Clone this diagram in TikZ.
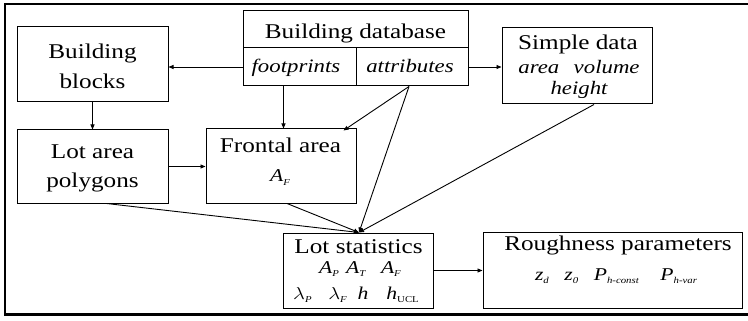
\documentclass[tikz,border=0pt]{standalone}
\usepackage{fontspec}
\usepackage{graphicx}
\setmainfont{Liberation Serif}
\usetikzlibrary{arrows.meta,calc}
\newcommand\wx[1]{\scalebox{1.2}[1]{#1}}
\newcommand\mvar[1]{{\fontsize{18}{18}\selectfont\itshape #1}}
\newcommand\sbs[1]{\raisebox{-3pt}{\fontsize{9}{9}\selectfont\itshape #1}}
\newcommand\sbu[1]{\raisebox{-3pt}{\fontsize{9}{9}\selectfont #1}}
\begin{document}
\begin{tikzpicture}[x=1pt,y=-1pt,
  box/.style={draw, line width=1pt, inner sep=0pt, rectangle},
  lbl/.style={anchor=base, inner sep=0pt, font=\fontsize{21}{21}\selectfont},
  ilbl/.style={anchor=base, inner sep=0pt, font=\fontsize{19}{19}\selectfont\itshape},
  mlbl/.style={anchor=base, inner sep=0pt, font=\fontsize{18}{18}\selectfont},
  arr/.style={-{Triangle[length=5pt,width=4pt]}, line width=0.9pt}]
\useasboundingbox (0,0) rectangle (748,321);
% outer frame
\draw[line width=1.3pt] (749,4) -- (5,4) -- (5,314);
\draw[line width=3pt] (4,314.5) -- (749,314.5);

% boxes
\node[box, minimum width=151pt, minimum height=75pt] (bb) at (92.5,64.5) {};
\node[box, minimum width=151pt, minimum height=73pt] (la) at (92.5,166.5) {};
\node[box, minimum width=225pt, minimum height=37pt] (dbh) at (355.5,29.5) {};
\node[box, minimum width=113pt, minimum height=38pt] (fp) at (299.5,67) {};
\node[box, minimum width=112pt, minimum height=38pt] (at) at (412,67) {};
\node[box, minimum width=150pt, minimum height=74pt] (fa) at (281,166) {};
\node[box, minimum width=150pt, minimum height=76pt] (sd) at (577,66) {};
\node[box, minimum width=150pt, minimum height=75pt] (ls) at (358,270.5) {};
\node[box, minimum width=259pt, minimum height=76pt] (rp) at (612.5,270) {};

% texts
\node[lbl] (t1) at (92.5,59) {\wx{Building}};
\node[lbl] (t2) at (92.5,89) {\wx{blocks}};
\node[lbl] (t3) at (92.5,158) {\wx{Lot area}};
\node[lbl] (t4) at (92.5,187) {\wx{polygons}};
\node[lbl] (t5) at (355.5,39) {\wx{Building database}};
\node[ilbl] (t6) at (296,73) {\wx{footprints}};
\node[ilbl] (t7) at (410,73) {\wx{attributes}};
\node[lbl] (t8) at (280.5,153) {\wx{Frontal area}};
\node[mlbl] (t9) at (280,182) {\wx{\mvar{A}\sbs{F}}};
\node[lbl] (t10) at (578,50) {\wx{Simple data}};
\node[ilbl] (t11) at (579,74) {\wx{area\hspace{12pt}volume}};
\node[ilbl] (t12) at (579,95) {\wx{height}};
\node[lbl] (t13) at (358.5,253) {\wx{Lot statistics}};
\node[mlbl] (t14) at (360,273) {\wx{\mvar{A}\sbs{P}\hspace{6pt}\mvar{A}\sbs{T}\hspace{13pt}\mvar{A}\sbs{F}}};
\node[mlbl] (t15) at (356,299) {\wx{\mvar{$\lambda$}\sbs{P}\hspace{14pt}\mvar{$\lambda$}\sbs{F}\hspace{9pt}\mvar{h}\hspace{15pt}\mvar{h}\sbu{UCL}}};
\node[lbl] (t16) at (618,250) {\wx{Roughness parameters}};
\node[mlbl] (t17) at (616,280) {\wx{\mvar{z}\sbs{d}\hspace{13pt}\mvar{z}\sbs{0}\hspace{13pt}\mvar{P}\sbs{h-const}\hspace{18pt}\mvar{P}\sbs{h-var}}};

% connectors
\coordinate (lsin) at ([xshift=1pt]ls.north);
\draw[arr] (fp.west) -- (fp.west -| bb.east);
\draw[arr] ([xshift=-16pt]fp.south) -- ([xshift=-16pt]fp.south |- fa.north);
\draw[arr] ([xshift=-3pt]at.south) -- ([xshift=-13pt,yshift=-2pt]fa.north east);
\draw[arr] ([xshift=-3pt]at.south) -- (lsin);
\draw[arr] (at.east) -- (at.east -| sd.west);
\draw[arr] ([xshift=17pt]sd.south) -- (lsin);
\draw[arr] (bb.south) -- (la.north);
\draw[arr] (la.east) -- (la.east -| fa.west);
\draw[arr] ([xshift=14pt]la.south) -- (lsin);
\draw[arr] ([xshift=6pt]fa.south) -- (lsin);
\draw[arr] (ls.east) -- (ls.east -| rp.west);
\end{tikzpicture}
\end{document}
